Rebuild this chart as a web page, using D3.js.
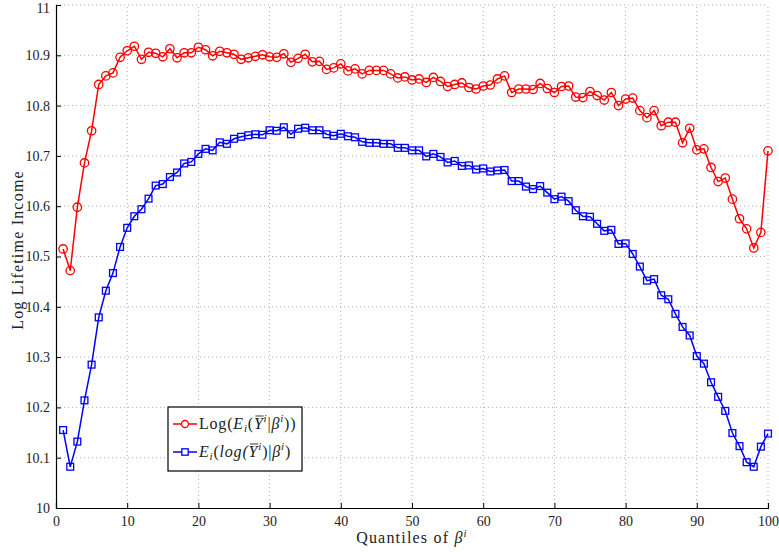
<!DOCTYPE html>
<html>
<head>
<meta charset="utf-8">
<script src="https://cdn.jsdelivr.net/npm/d3@7"></script>
<style>
  body { margin: 0; background: #fff; }
  svg { display: block; font-family: "Liberation Serif", "Times New Roman", serif; }
</style>
</head>
<body>
<script>
"use strict";

// Quantile index (x categories).
const quantiles = [
  1, 2, 3, 4, 5, 6, 7, 8, 9, 10, 11, 12, 13, 14, 15, 16, 17, 18, 19, 20,
  21, 22, 23, 24, 25, 26, 27, 28, 29, 30, 31, 32, 33, 34, 35, 36, 37, 38, 39, 40,
  41, 42, 43, 44, 45, 46, 47, 48, 49, 50, 51, 52, 53, 54, 55, 56, 57, 58, 59, 60,
  61, 62, 63, 64, 65, 66, 67, 68, 69, 70, 71, 72, 73, 74, 75, 76, 77, 78, 79, 80,
  81, 82, 83, 84, 85, 86, 87, 88, 89, 90, 91, 92, 93, 94, 95, 96, 97, 98, 99, 100
];

// Log(E_i(Ybar^i | beta^i)) - red circles.
const logOfMean = [
  10.515, 10.472, 10.598, 10.686, 10.750, 10.842, 10.859, 10.865, 10.896, 10.909,
  10.918, 10.892, 10.906, 10.904, 10.897, 10.913, 10.895, 10.905, 10.905, 10.916,
  10.911, 10.899, 10.908, 10.905, 10.902, 10.892, 10.895, 10.898, 10.901, 10.897,
  10.896, 10.903, 10.886, 10.894, 10.902, 10.887, 10.888, 10.872, 10.875, 10.883,
  10.869, 10.873, 10.863, 10.870, 10.870, 10.870, 10.863, 10.855, 10.857, 10.851,
  10.853, 10.846, 10.856, 10.848, 10.838, 10.842, 10.845, 10.836, 10.833, 10.839,
  10.841, 10.853, 10.859, 10.826, 10.833, 10.833, 10.832, 10.844, 10.834, 10.826,
  10.838, 10.839, 10.817, 10.816, 10.828, 10.820, 10.811, 10.826, 10.800, 10.813,
  10.815, 10.790, 10.776, 10.790, 10.760, 10.767, 10.767, 10.726, 10.755, 10.712,
  10.714, 10.677, 10.649, 10.656, 10.614, 10.575, 10.555, 10.517, 10.548, 10.710
];

// E_i(log(Ybar^i) | beta^i) - blue squares.
const meanOfLog = [
  10.155, 10.082, 10.132, 10.214, 10.285, 10.379, 10.432, 10.467, 10.519, 10.557,
  10.580, 10.594, 10.615, 10.641, 10.644, 10.658, 10.667, 10.685, 10.688, 10.704,
  10.714, 10.711, 10.727, 10.724, 10.734, 10.738, 10.741, 10.743, 10.742, 10.751,
  10.750, 10.757, 10.743, 10.754, 10.756, 10.751, 10.751, 10.743, 10.740, 10.744,
  10.739, 10.737, 10.728, 10.726, 10.726, 10.724, 10.724, 10.716, 10.716, 10.711,
  10.711, 10.699, 10.704, 10.698, 10.687, 10.690, 10.680, 10.681, 10.673, 10.675,
  10.669, 10.671, 10.672, 10.650, 10.650, 10.639, 10.634, 10.640, 10.627, 10.614,
  10.619, 10.610, 10.592, 10.580, 10.579, 10.565, 10.551, 10.553, 10.525, 10.526,
  10.505, 10.480, 10.452, 10.455, 10.423, 10.415, 10.386, 10.360, 10.343, 10.302,
  10.287, 10.250, 10.221, 10.193, 10.149, 10.123, 10.091, 10.082, 10.122, 10.148
];

// Tick values.
const xTicks = [0, 10, 20, 30, 40, 50, 60, 70, 80, 90, 100];
const yTicks = [10, 10.1, 10.2, 10.3, 10.4, 10.5, 10.6, 10.7, 10.8, 10.9, 11];

// Canvas + margins.
var width = 779,
  height = 552;
var margin = {top: 5, right: 11, bottom: 44, left: 56};

var svg = d3.select("body").append("svg")
  .attr("width", width)
  .attr("height", height);

var x = d3.scaleLinear().domain([0, 100]).range([margin.left, width - margin.right]);
var y = d3.scaleLinear().domain([10, 11]).range([height - margin.bottom, margin.top]);

// Dotted grid.
var grid = svg.append("g")
  .attr("stroke", "#999")
  .attr("stroke-width", 0.8)
  .attr("stroke-dasharray", "1,3");
grid.selectAll(".gx").data(xTicks.slice(1)).enter().append("line")
  .attr("x1", d => x(d)).attr("x2", d => x(d))
  .attr("y1", y(10)).attr("y2", y(11));
grid.selectAll(".gy").data(yTicks.slice(1)).enter().append("line")
  .attr("y1", d => y(d)).attr("y2", d => y(d))
  .attr("x1", x(0)).attr("x2", x(100));

// Axes - ticks point inward like matlab.
var xAxis = svg.append("g")
  .attr("transform", "translate(0," + y(10) + ")")
  .call(d3.axisBottom(x).tickValues(xTicks).tickSize(-5).tickPadding(8).tickFormat(d3.format("d")));
var yAxis = svg.append("g")
  .attr("transform", "translate(" + x(0) + ",0)")
  .call(d3.axisLeft(y).tickValues(yTicks).tickSize(-5).tickPadding(6)
    .tickFormat(d => (d === 10 || d === 11) ? d3.format("d")(d) : d3.format(".1f")(d)));

[xAxis, yAxis].forEach(function(a) {
  a.select(".domain").attr("stroke", "#000").attr("stroke-width", 1.2);
  a.selectAll(".tick line").attr("stroke", "#000");
  a.selectAll(".tick text")
    .attr("font-family", "Liberation Serif, serif")
    .attr("font-size", 14)
    .attr("fill", "#222");
});
// Top label would be clipped at the edge - nudge it down a touch.
yAxis.selectAll(".tick text").filter(d => d === 11).attr("dy", "0.55em");

// Series.
var series = [
  {name: "log_of_mean", values: logOfMean, color: "#ff0000", marker: "circle"},
  {name: "mean_of_log", values: meanOfLog, color: "#0000ff", marker: "square"}
];

var line = d3.line()
  .x(d => x(d[0]))
  .y(d => y(d[1]));

series.forEach(function(s) {
  var pts = quantiles.map((q, i) => [q, s.values[i]]);
  var g = svg.append("g").attr("class", s.name);

  g.append("path")
    .datum(pts)
    .attr("fill", "none")
    .attr("stroke", s.color)
    .attr("stroke-width", 1.5)
    .attr("d", line);

  if (s.marker === "circle") {
    g.selectAll("circle").data(pts).enter().append("circle")
      .attr("cx", d => x(d[0]))
      .attr("cy", d => y(d[1]))
      .attr("r", 4.2)
      .attr("fill", "none")
      .attr("stroke", s.color)
      .attr("stroke-width", 1.3);
  } else {
    g.selectAll("rect").data(pts).enter().append("rect")
      .attr("x", d => x(d[0]) - 3.4)
      .attr("y", d => y(d[1]) - 3.4)
      .attr("width", 6.8)
      .attr("height", 6.8)
      .attr("fill", "none")
      .attr("stroke", s.color)
      .attr("stroke-width", 1.3);
  }
});

// Axis titles.
var xTitle = svg.append("text")
  .attr("x", (x(0) + x(100)) / 2)
  .attr("y", 543)
  .attr("text-anchor", "middle")
  .attr("font-size", 16)
  .attr("letter-spacing", 1.2)
  .attr("fill", "#222");
xTitle.append("tspan").text("Quantiles of ");
xTitle.append("tspan").attr("font-style", "italic").text("β");
xTitle.append("tspan").attr("font-style", "italic").attr("font-size", 11).attr("dy", -6).text("i");

svg.append("text")
  .attr("transform", "translate(23," + 250 + ") rotate(-90)")
  .attr("text-anchor", "middle")
  .attr("font-size", 16)
  .attr("letter-spacing", 1.2)
  .attr("fill", "#222")
  .text("Log Lifetime Income");

// Legend.
var legend = svg.append("g").attr("transform", "translate(168,407)");
legend.append("rect")
  .attr("width", 134).attr("height", 64)
  .attr("fill", "#fff")
  .attr("stroke", "#000")
  .attr("stroke-width", 1.2);

// Each label is a list of [text, style] pieces: n = normal, it = italic, sub / sup.
var legendLabels = [
  [["Log(", "n"], ["E", "it"], ["i", "sub"], ["(", "n"], ["Y", "it"], ["i", "sup"], ["|", "n"], ["β", "it"], ["i", "sup"], ["))", "n"]],
  [["E", "it"], ["i", "sub"], ["(", "n"], ["log(", "it"], ["Y", "it"], ["i", "sup"], [")|", "n"], ["β", "it"], ["i", "sup"], [")", "n"]]
];

series.forEach(function(s, k) {
  var cy = 17 + k * 28;
  var row = legend.append("g");
  row.append("line")
    .attr("x1", 5).attr("x2", 29)
    .attr("y1", cy).attr("y2", cy)
    .attr("stroke", s.color).attr("stroke-width", 1.5);
  if (s.marker === "circle") {
    row.append("circle").attr("cx", 17).attr("cy", cy).attr("r", 3.5)
      .attr("fill", "#fff").attr("stroke", s.color).attr("stroke-width", 1.3);
  } else {
    row.append("rect").attr("x", 17 - 3.2).attr("y", cy - 3.2).attr("width", 6.4).attr("height", 6.4)
      .attr("fill", "#fff").attr("stroke", s.color).attr("stroke-width", 1.3);
  }

  var txt = row.append("text")
    .attr("x", 31)
    .attr("y", cy + 5)
    .attr("font-size", 16)
    .attr("letter-spacing", 0.8)
    .attr("fill", "#222");
  var shift = 0;
  var ybarIndex = 0, count = 0;
  legendLabels[k].forEach(function(p) {
    var t = txt.append("tspan").text(p[0]);
    var target = 0;
    if (p[1] === "it") t.attr("font-style", "italic");
    if (p[1] === "sub") { t.attr("font-style", "italic").attr("font-size", 11); target = 3; }
    if (p[1] === "sup") { t.attr("font-style", "italic").attr("font-size", 11); target = -7; }
    if (target !== shift) t.attr("dy", target - shift);
    shift = target;
    if (p[0] === "Y") ybarIndex = count;
    count += p[0].length;
  });

  // Overline on the Y.
  var node = txt.node();
  var a = node.getStartPositionOfChar(ybarIndex);
  var b = node.getEndPositionOfChar(ybarIndex);
  row.append("line")
    .attr("x1", a.x + 1.5).attr("x2", b.x)
    .attr("y1", a.y - 13).attr("y2", a.y - 13)
    .attr("stroke", "#222").attr("stroke-width", 0.9);
});
</script>
</body>
</html>
